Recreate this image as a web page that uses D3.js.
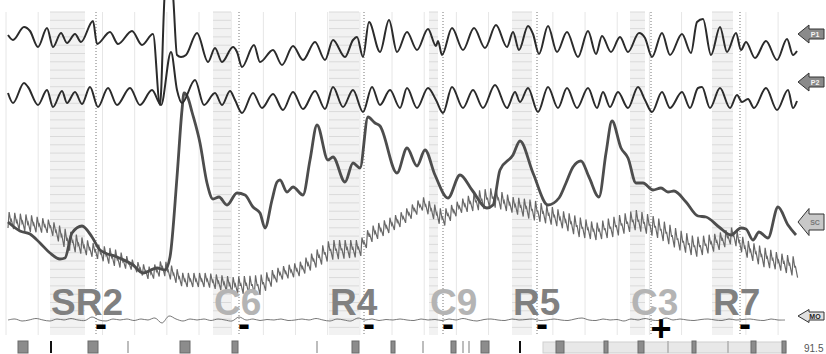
<!DOCTYPE html>
<html>
<head>
<meta charset="utf-8">
<script src="https://cdn.jsdelivr.net/npm/d3@7"></script>
<style>
  body { margin: 0; background: #fff; }
  svg { display: block; }
</style>
</head>
<body>
<svg id="chart" width="826" height="354"></svg>
<script>
// ---- data (time in samples, values in channel units) ----
const p1 = [[0,25],[5,20],[16,33],[22,29],[30,13],[39,32],[45,13],[53,27],[59,17],[67,26],[73,18],[85,39],[89,16],
  [102,28],[110,16],[124,29],[134,15],[145,26],[152,-45],[157,70],[161,85],[165,65],[169,5],[173,3],[178,5],[189,27],
  [200,-2],[207,12],[214,-2],[225,13],[229,8],[234,-7],[246,15],[252,-2],[265,10],[274,-5],[285,14],[295,0],[307,18],
  [317,0],[325,20],[337,3],[345,20],[349,23],[355,3],[361,38],[372,8],[381,40],[389,8],[399,28],[409,10],[420,31],
  [428,14],[430,19],[434,5],[444,32],[455,10],[466,32],[477,12],[488,35],[499,13],[505,28],[511,10],[520,34],[525,26],
  [531,6],[540,34],[549,8],[559,28],[570,3],[580,29],[588,6],[594,24],[603,8],[612,23],[620,8],[631,27],[637,22],
  [644,3],[654,27],[662,5],[674,26],[683,7],[689,38],[695,41],[703,5],[712,33],[719,8],[728,27],[733,10],[738,18],
  [747,2],[758,19],[769,0],[779,21],[785,5],[789,9]];

const p2 = [[0,27],[5,17],[16,37],[20,33],[30,15],[39,30],[45,13],[54,29],[59,17],[67,28],[74,16],[82,33],[90,13],
  [100,32],[109,15],[122,32],[132,15],[144,30],[153,15],[163,68],[169,30],[174,17],[187,40],[196,15],[207,27],[214,15],
  [222,29],[227,20],[234,7],[245,27],[254,12],[265,26],[275,10],[285,28],[295,11],[307,29],[317,11],[325,33],[335,13],
  [345,30],[355,8],[364,33],[372,15],[382,30],[392,12],[399,32],[409,12],[420,32],[428,20],[435,7],[444,33],[455,12],
  [465,30],[475,12],[487,35],[499,12],[507,28],[512,18],[520,32],[530,8],[540,33],[550,12],[559,32],[569,12],[580,32],
  [589,12],[595,28],[602,13],[610,28],[620,12],[630,33],[637,20],[644,8],[654,28],[662,12],[674,28],[682,12],[690,32],
  [694,33],[702,12],[712,32],[722,12],[729,25],[734,18],[740,21],[746,12],[758,32],[769,10],[780,30],[785,12],[789,19]];

const eda = [[0,78],[12,69],[22,66],[32,57],[42,47],[52,41],[57,42],[64,67],[74,74],[84,63],[92,50],[109,43],[125,35],
  [135,27],[149,32],[157,30],[162,43],[169,123],[174,190],[176,207],[180,202],[184,188],[192,157],[199,117],[205,101],
  [211,103],[219,95],[229,107],[237,105],[245,93],[252,87],[257,72],[264,100],[269,118],[272,120],[279,108],[285,113],
  [295,105],[302,140],[309,175],[320,140],[325,143],[337,118],[345,137],[352,132],[360,183],[367,177],[372,174],
  [389,127],[399,152],[409,134],[417,150],[427,125],[440,102],[452,125],[464,110],[479,92],[485,95],[492,130],[505,145],
  [512,159],[525,127],[540,95],[551,102],[558,117],[565,133],[573,139],[581,123],[591,103],[598,147],[604,179],
  [613,152],[620,142],[628,117],[635,117],[645,110],[653,112],[660,108],[666,109],[678,98],[690,84],[698,83],[711,73],
  [723,65],[733,72],[738,71],[745,60],[751,68],[760,62],[770,93],[780,75],[788,65]];

// cardio cuff: [time, systolic envelope, diastolic envelope]
const cardioEnv = [[0,88,72],[22,85,68],[42,80,67],[59,70,50],[85,57,43],[109,50,33],[125,40,30],[142,33,20],
  [155,40,25],[175,27,13],[199,27,13],[225,23,7],[252,25,5],[272,33,20],[292,38,24],[322,60,40],[352,60,43],
  [362,73,57],[392,87,73],[415,103,90],[435,90,73],[452,100,87],[472,110,90],[485,112,93],[505,103,87],[525,100,80],
  [552,90,73],[571,83,63],[588,77,60],[605,83,63],[628,90,70],[648,83,63],[671,70,50],[688,63,43],[711,67,50],
  [725,73,57],[738,60,43],[755,53,33],[771,47,30],[788,43,23]];
const beatInterval = 5.6;

// movement sensor, one value every moStep samples
const moStep = 7;
const mo = [10,11,9,10,11.5,10,9,11,10,11.5,10,9.5,13,10,9,11,10,11,9.5,11,10,12,7,14,11,9,11,10,11,9.5,11,10,9,13,
  10,11,9.5,10.5,10,11,9.5,10,11,10,11.5,10,9,11,10,9,12,10,11,9.5,10.5,10,11,10,9.5,11,10,10.5,9.5,11,10,11.5,10,9,
  10.5,11,10,9.5,11,10,10.5,11,9.5,10,11,10,9.5,11,12,10,9.5,11,10,10.5,9,11,10,11.5,10,9.5,12,10,11,10,9.5,10.5,11,
  10,9.5,11,10,10.5,11,10,9.5,11,10,10];

// questions: label, onset, offset, answer, score, kind
const questions = [
  ["SR2", 42, 77, 88, "-", "R"],
  ["C6", 205, 223, 231, "-", "C"],
  ["R4", 321, 351, 356, "-", "R"],
  ["C9", 421, 430, 435, "-", "C"],
  ["R5", 504, 524, 529, "-", "R"],
  ["C3", 622, 637, 643, "+", "C"],
  ["R7", 704, 725, 732, "-", "R"]
];

// event marks along the bottom: start, end, kind
const events = [[10,20,"block"],[43,43,"tick"],[80,90,"block"],[120,120,"faint"],[172,182,"block"],[224,230,"block"],
  [309,309,"faint"],[344,351,"block"],[383,387,"block"],[415,415,"faint"],[443,448,"block"],[455,455,"faint"],
  [461,461,"faint"],[473,481,"block"],[512,512,"tick"],[548,556,"block"],[596,600,"block"],[630,636,"block"],
  [660,660,"faint"],[684,688,"block"],[720,720,"faint"],[743,748,"block"],[774,778,"block"]];
const eventBar = [535, 778];
const sessionValue = "91.5";

const channelLabels = ["P1", "P2", "SC", "MO"];

// ---- scales ----
const svg = d3.select("#chart");
const plotTop = 12, plotBottom = 335;
const x = d3.scaleLinear().domain([0, 790]).range([8, 798]);
const yP1 = d3.scaleLinear().domain([0, 60]).range([60, 0]);
const yP2 = d3.scaleLinear().domain([0, 120]).range([120, 0]);
const yEda = d3.scaleLinear().domain([0, 300]).range([300, 0]);
const yCardio = d3.scaleLinear().domain([0, 300]).range([300, 0]);
const yMo = d3.scaleLinear().domain([0, 20]).range([330, 310]);
const font = "'Liberation Sans', Arial, sans-serif";

// ---- background: grid and question zones ----
const grid = svg.append("g");
grid.selectAll("line.v")
  .data(d3.range(-2, 791, 32.17))
  .join("line")
  .attr("x1", d => x(d)).attr("x2", d => x(d))
  .attr("y1", plotTop).attr("y2", plotBottom)
  .attr("stroke", "#e6e6e6").attr("stroke-width", 1);

const zones = svg.append("g");
questions.forEach(q => {
  const z = zones.append("g");
  z.append("rect")
    .attr("x", x(q[1])).attr("y", plotTop)
    .attr("width", x(q[2]) - x(q[1])).attr("height", plotBottom - plotTop)
    .attr("fill", "#f2f2f2");
  z.selectAll("line")
    .data(d3.range(plotTop, plotBottom, 8.3))
    .join("line")
    .attr("x1", x(q[1])).attr("x2", x(q[2]))
    .attr("y1", d => d).attr("y2", d => d)
    .attr("stroke", "#dadada").attr("stroke-width", 1);
  z.append("line")
    .attr("x1", x(q[3])).attr("x2", x(q[3]))
    .attr("y1", plotTop).attr("y2", plotBottom)
    .attr("stroke", "#777").attr("stroke-dasharray", "1,2");
});

// ---- traces ----
const line = (yScale, curve) => d3.line()
  .x(d => x(d[0]))
  .y(d => yScale(d[1]))
  .curve(curve || d3.curveMonotoneX);

// cardio pulse built from the read envelope
const sys = d3.scaleLinear().domain(cardioEnv.map(d => d[0])).range(cardioEnv.map(d => d[1]));
const dia = d3.scaleLinear().domain(cardioEnv.map(d => d[0])).range(cardioEnv.map(d => d[2]));
const pulseShape = [[0, 0], [0.2, 1], [0.5, 0.45], [0.6, 0.55]];
const cardio = [];
d3.range(0, 790, beatInterval).forEach(t0 => {
  pulseShape.forEach(([f, a]) => {
    const t = t0 + f * beatInterval;
    if (t <= 790) cardio.push([t, dia(t) + a * (sys(t) - dia(t))]);
  });
});

svg.append("path").datum(cardio)
  .attr("fill", "none").attr("stroke", "#686868").attr("stroke-width", 1.2)
  .attr("d", line(yCardio, d3.curveLinear));

svg.append("path").datum(eda)
  .attr("fill", "none").attr("stroke", "#4d4d4d").attr("stroke-width", 2.8)
  .attr("d", line(yEda));

svg.append("path").datum(p1)
  .attr("fill", "none").attr("stroke", "#2b2b2b").attr("stroke-width", 2)
  .attr("d", line(yP1));

svg.append("path").datum(p2)
  .attr("fill", "none").attr("stroke", "#2b2b2b").attr("stroke-width", 2)
  .attr("d", line(yP2));

svg.append("path").datum(mo.map((v, i) => [i * moStep, v]))
  .attr("fill", "none").attr("stroke", "#555").attr("stroke-width", 0.8)
  .attr("d", line(yMo, d3.curveCatmullRom));

// ---- question labels with their scores (one text each) ----
const qText = svg.selectAll("text.q")
  .data(questions)
  .join("text")
  .attr("class", "q")
  .attr("font-family", font).attr("font-weight", "bold");

qText.append("tspan")
  .attr("x", d => x(d[1]) + 1)
  .attr("y", 315)
  .attr("font-size", 37)
  .attr("fill", d => d[5] === "C" ? "#b4b4b4" : "#808080")
  .text(d => d[0]);

qText.append("tspan")
  .attr("x", d => x(d[3]) + (d[4] === "+" ? 10 : 5))
  .attr("y", d => d[4] === "+" ? 341 : 336)
  .attr("text-anchor", "middle")
  .attr("font-size", 36)
  .attr("fill", "#000")
  .text(d => d[4]);

// ---- event row ----
const ev = svg.append("g");
ev.append("rect")
  .attr("x", x(eventBar[0])).attr("y", 342)
  .attr("width", x(eventBar[1]) - x(eventBar[0])).attr("height", 11)
  .attr("fill", "#e8e8e8").attr("stroke", "#cfcfcf");
events.forEach(e => {
  if (e[2] === "block") {
    ev.append("rect")
      .attr("x", x(e[0])).attr("y", 341)
      .attr("width", x(e[1]) - x(e[0])).attr("height", 12)
      .attr("fill", "#8c8c8c").attr("stroke", "#6a6a6a");
  } else {
    ev.append("rect")
      .attr("x", x(e[0]) - 1).attr("y", 341)
      .attr("width", 2).attr("height", 12)
      .attr("fill", e[2] === "tick" ? "#111" : "#bdbdbd");
  }
});
svg.append("text")
  .attr("x", 804).attr("y", 352)
  .attr("font-family", font).attr("font-size", 10).attr("fill", "#555")
  .text(sessionValue);

// ---- channel arrows ----
const arrowSpecs = [
  { tipY: 34, half: 9, body: 5, fill: "#8a8a8a", text: "#f4f4f4" },
  { tipY: 82, half: 9, body: 5, fill: "#8a8a8a", text: "#f4f4f4" },
  { tipY: 222, half: 13.5, body: 8, fill: "#c8c8c8", text: "#777" },
  { tipY: 316, half: 6.5, body: 4, fill: "#e0e0e0", text: "#222" }
];
arrowSpecs.forEach((a, i) => {
  const tx = 798, hx = 809, rx = 824;
  const pts = [[tx, a.tipY], [hx, a.tipY - a.half], [hx, a.tipY - a.body], [rx, a.tipY - a.body],
    [rx, a.tipY + a.body], [hx, a.tipY + a.body], [hx, a.tipY + a.half]];
  svg.append("polygon")
    .attr("points", pts.map(p => p.join(",")).join(" "))
    .attr("fill", a.fill).attr("stroke", "#333").attr("stroke-width", 1);
  svg.append("text")
    .attr("x", 815).attr("y", a.tipY + 2.5)
    .attr("text-anchor", "middle")
    .attr("font-family", font).attr("font-weight", "bold").attr("font-size", 7)
    .attr("fill", a.text)
    .text(channelLabels[i]);
});
</script>
</body>
</html>
